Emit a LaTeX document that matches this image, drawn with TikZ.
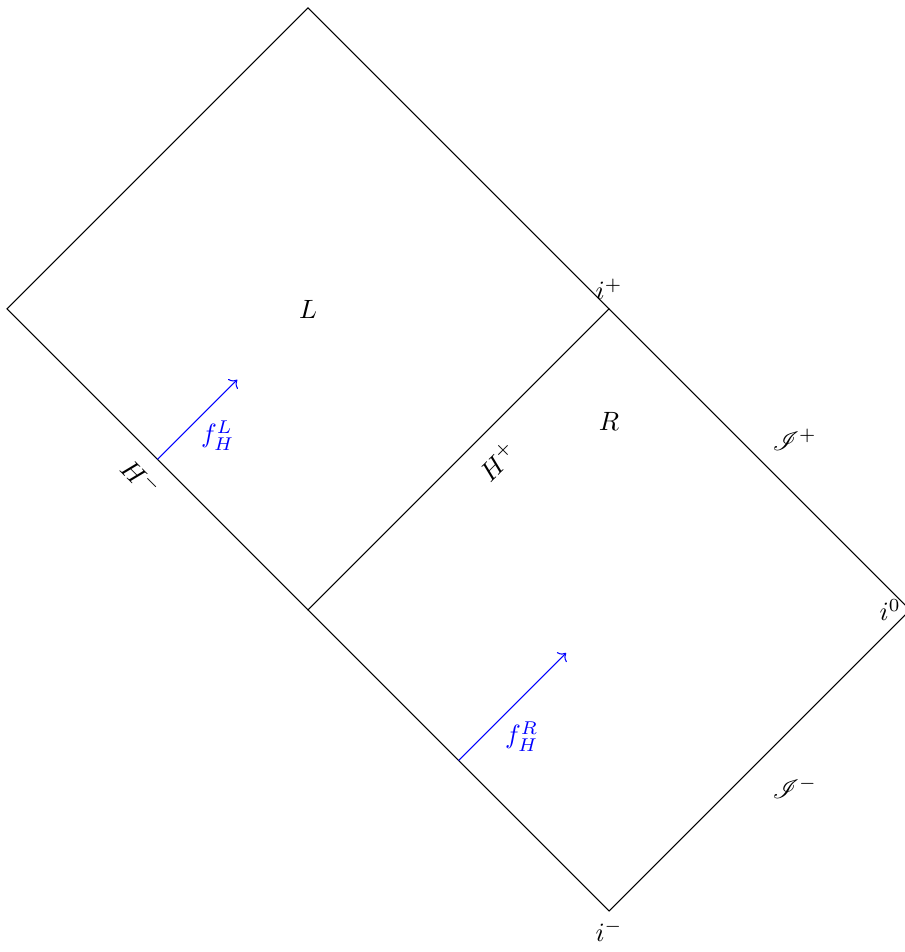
\documentclass[tikz,border=0pt]{standalone}
\usepackage{amsmath, amssymb}
\usepackage{mathrsfs}
\usetikzlibrary{arrows.meta,calc,positioning}

\begin{document}
\begin{tikzpicture}
          \useasboundingbox (-0.093,-8.545) rectangle (11.93,4.106);
          % Corners of the two wedges
          \coordinate (left) at (0,0);
          \coordinate (top) at (4,4);
          \coordinate (iplus) at (8,0);
          \coordinate (bif) at (4,-4);
          \coordinate (izero) at (12,-4);
          \coordinate (iminus) at (8,-8);
          % Left region and right region
          \draw (left) -- (top) -- (iplus) -- (bif) -- cycle;
          \draw (iplus) -- (izero) -- (iminus) -- (bif);
          % Modes leaving the horizon
          \coordinate (fLstart) at (2,-2);
          \coordinate (fLend) at ($(fLstart)+(1.06,1.06)$);
          \coordinate (fRstart) at (6,-6);
          \coordinate (fRend) at ($(fRstart)+(1.43,1.43)$);
          \draw[->,blue] (fLstart) -- (fLend);
          \draw[->,blue] (fRstart) -- (fRend);
          \node[blue] (fL) at (2.8,-1.68) {$f_H^L$};
          \node[blue] (fR) at (6.84,-5.68) {$f_H^R$};
          % Label the regions and horizons
          \node (regL) at (4,0) {$L$};
          \node (regR) at (8,-1.5) {$R$};
          \node[rotate=45] (Hplus) at (6.52,-2.02) {$H^+$};
          \node[rotate=-45] (Hminus) at (1.78,-2.24) {$H^-$};
          \node[above right] (scriplus) at (10.05,-2) {$\mathscr{I}^+$};
          \node[below right] (scriminus) at (10.05,-6.1) {$\mathscr{I}^-$};
          % Label the infinities
          \node[above] (lblplus) at (iplus) {$i^+$};
          \node[left] (lblzero) at (izero) {$i^0$};
          \node[below] (lblminus) at (iminus) {$i^-$};
        \end{tikzpicture}
\end{document}
